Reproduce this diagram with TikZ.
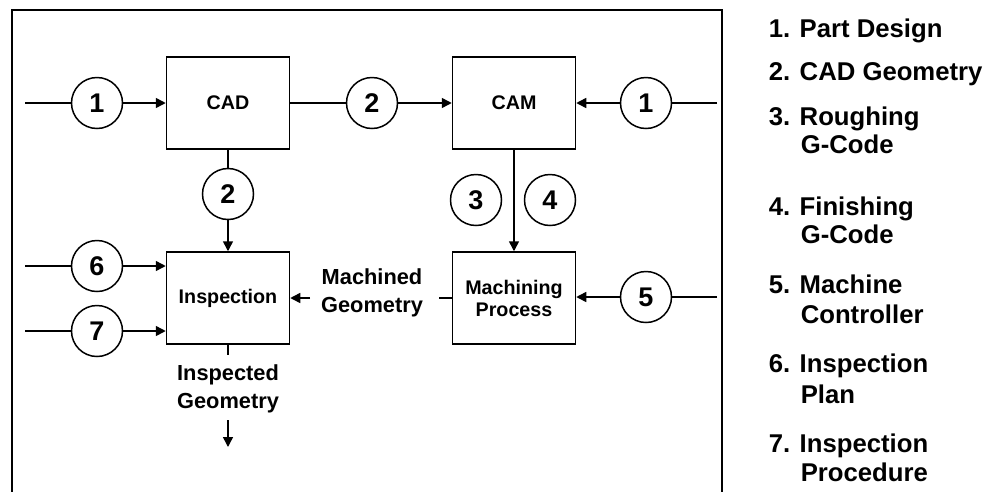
\documentclass[tikz,border=0pt]{standalone}
\usepackage{fontspec}
\setmainfont{Liberation Sans}
\usetikzlibrary{arrows.meta,positioning}

\begin{document}
\begin{tikzpicture}[x=1pt, y=-1pt, line width=1.5pt,
    block/.style={rectangle, draw, minimum width=123pt, minimum height=92pt, align=center,
      font=\fontsize{19.7}{22}\selectfont\bfseries},
    num/.style={circle, draw, fill=white, minimum size=51pt, inner sep=0pt,
      font=\fontsize{27}{27}\selectfont\bfseries},
    lbl/.style={align=center, font=\fontsize{21.8}{27.5}\selectfont\bfseries},
    legend/.style={anchor=west, inner sep=0pt, text height=18.5pt, text depth=5pt,
      font=\fontsize{25.7}{28}\selectfont\bfseries},
    arr/.style={-{Triangle[length=10pt, width=10pt]}}]
    \useasboundingbox (0,0) rectangle (986,491);
    % Frame
    \draw[line width=2.4pt] (12,495) -- (12,10) -- (722,10) -- (722,495);

    % Main components
    \node [block] (cad) at (228,103) {CAD};
    \node [block] (cam) at (514,103) {CAM};
    \node [block] (insp) at (228,298) {Inspection};
    \node [block] (mach) at (514,298) {Machining\\Process};

    % Numbered streams
    \node [num] (n1a) at (97,103) {1};
    \node [num] (n2a) at (372,103) {2};
    \node [num] (n1b) at (646,103) {1};
    \node [num] (n2b) at (228,194) {2};
    \node [num] (n3) at (476,200) {3};
    \node [num] (n4) at (550,200) {4};
    \node [num] (n5) at (646,297) {5};
    \node [num] (n6) at (97,266) {6};
    \node [num] (n7) at (97,331) {7};

    % Free ends
    \coordinate (in1) at (25,103);
    \coordinate (in6) at (25,266);
    \coordinate (in7) at (25,331);
    \coordinate (out1) at (717,103);
    \coordinate (out5) at (717,297);
    \coordinate (machstub) at (439,298);
    \coordinate (machtip) at (310,298);
    \coordinate (inspstub) at (228,355);
    \coordinate (outtail) at (228,420);
    \coordinate (outhead) at (228,447);

    % Arrows
    \draw (in1) -- (n1a);
    \draw[arr] (n1a) -- (cad);
    \draw (cad) -- (n2a);
    \draw[arr] (n2a) -- (cam);
    \draw (out1) -- (n1b);
    \draw[arr] (n1b) -- (cam);
    \draw (cad) -- (n2b);
    \draw[arr] (n2b) -- (insp);
    \draw[arr] (cam) -- (mach);
    \draw (out5) -- (n5);
    \draw[arr] (n5) -- (mach.east |- n5);
    \draw (in6) -- (n6);
    \draw[arr] (n6) -- (insp.west |- n6);
    \draw (in7) -- (n7);
    \draw[arr] (n7) -- (insp.west |- n7);
    \draw (mach.west |- machstub) -- (machstub);
    \draw[arr] (machtip) -- (insp.east |- machtip);
    \draw (insp) -- (inspstub);
    \draw[arr] (outtail) -- (outhead);

    % Labels
    \node [lbl] (machgeo) at (372,293) {Machined\\Geometry};
    \node [lbl] (inspgeo) at (228,389) {Inspected\\Geometry};

    % Legend
    \foreach \y/\t [count=\i] in {31/1. Part Design, 74/2. CAD Geometry, 119/3. Roughing,
        209/4. Finishing, 287/5. Machine, 366/6. Inspection, 446/7. Inspection}
      \node [legend] (leg\i) at (768,\y) {\t};
    \foreach \y/\t [count=\i] in {147/G-Code, 237/G-Code, 317/Controller, 397/Plan, 475/Procedure}
      \node [legend] (sub\i) at (800,\y) {\t};
\end{tikzpicture}
\end{document}
